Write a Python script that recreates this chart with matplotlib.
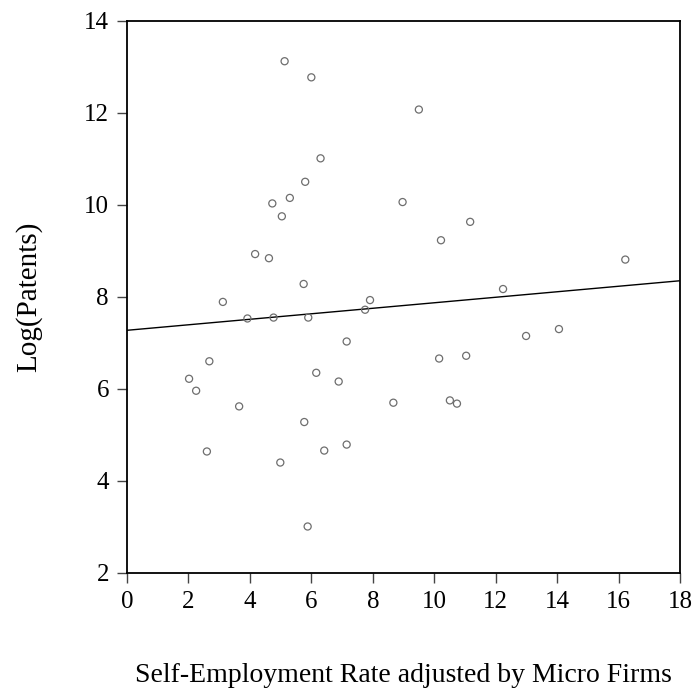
import numpy as np
import matplotlib.pyplot as plt

# Self-employment rate (adjusted by micro firms) vs log(patents)
self_emp = [5.13, 6.00, 9.50, 6.30, 5.80, 5.30, 4.73, 8.97, 5.04, 11.17,
            10.22, 4.17, 4.62, 16.22, 5.75, 12.24, 7.91, 3.12, 7.75, 3.92,
            4.77, 5.90, 14.06, 12.99, 7.15, 11.04, 10.16, 2.68, 6.16, 2.02,
            6.89, 2.25, 10.51, 10.74, 8.67, 3.65, 5.77, 7.15, 6.42, 2.60,
            4.99, 5.88]
log_patents = [13.12, 12.77, 12.07, 11.01, 10.50, 10.15, 10.03, 10.06, 9.75, 9.63,
               9.23, 8.93, 8.84, 8.81, 8.28, 8.17, 7.93, 7.89, 7.72, 7.53,
               7.55, 7.55, 7.30, 7.15, 7.03, 6.72, 6.66, 6.60, 6.35, 6.22,
               6.16, 5.96, 5.75, 5.68, 5.70, 5.62, 5.28, 4.79, 4.66, 4.64,
               4.40, 3.01]

x_ticks = [0, 2, 4, 6, 8, 10, 12, 14, 16, 18]
y_ticks = [2, 4, 6, 8, 10, 12, 14]

plt.rcParams['font.family'] = ['Liberation Serif', 'DejaVu Serif']

fig = plt.figure(figsize=(6.99, 6.91), dpi=100)
ax = fig.add_axes([0.1817, 0.1708, 0.9728 - 0.1817, 0.970 - 0.1708])

ax.scatter(self_emp, log_patents, s=26, facecolors='none', edgecolors='#6e6e6e',
           linewidths=0.9, zorder=3)

# linear fit line across the full x range
slope, intercept = np.polyfit(self_emp, log_patents, 1)
xs = np.array([0, 18])
ax.plot(xs, intercept + slope * xs, color='black', lw=1.0)

ax.set_xlim(0, 18)
ax.set_ylim(2, 14)
ax.set_xticks(x_ticks)
ax.set_yticks(y_ticks)
ax.tick_params(direction='out', length=7, width=1, labelsize=18, pad=6, color='#444444')
for sp in ax.spines.values():
    sp.set_linewidth(1.3)

ax.set_xlabel('Self-Employment Rate adjusted by Micro Firms', fontsize=20, labelpad=36)
ax.set_ylabel('Log(Patents)', fontsize=21, labelpad=30)

plt.savefig('out.png', dpi=100)
